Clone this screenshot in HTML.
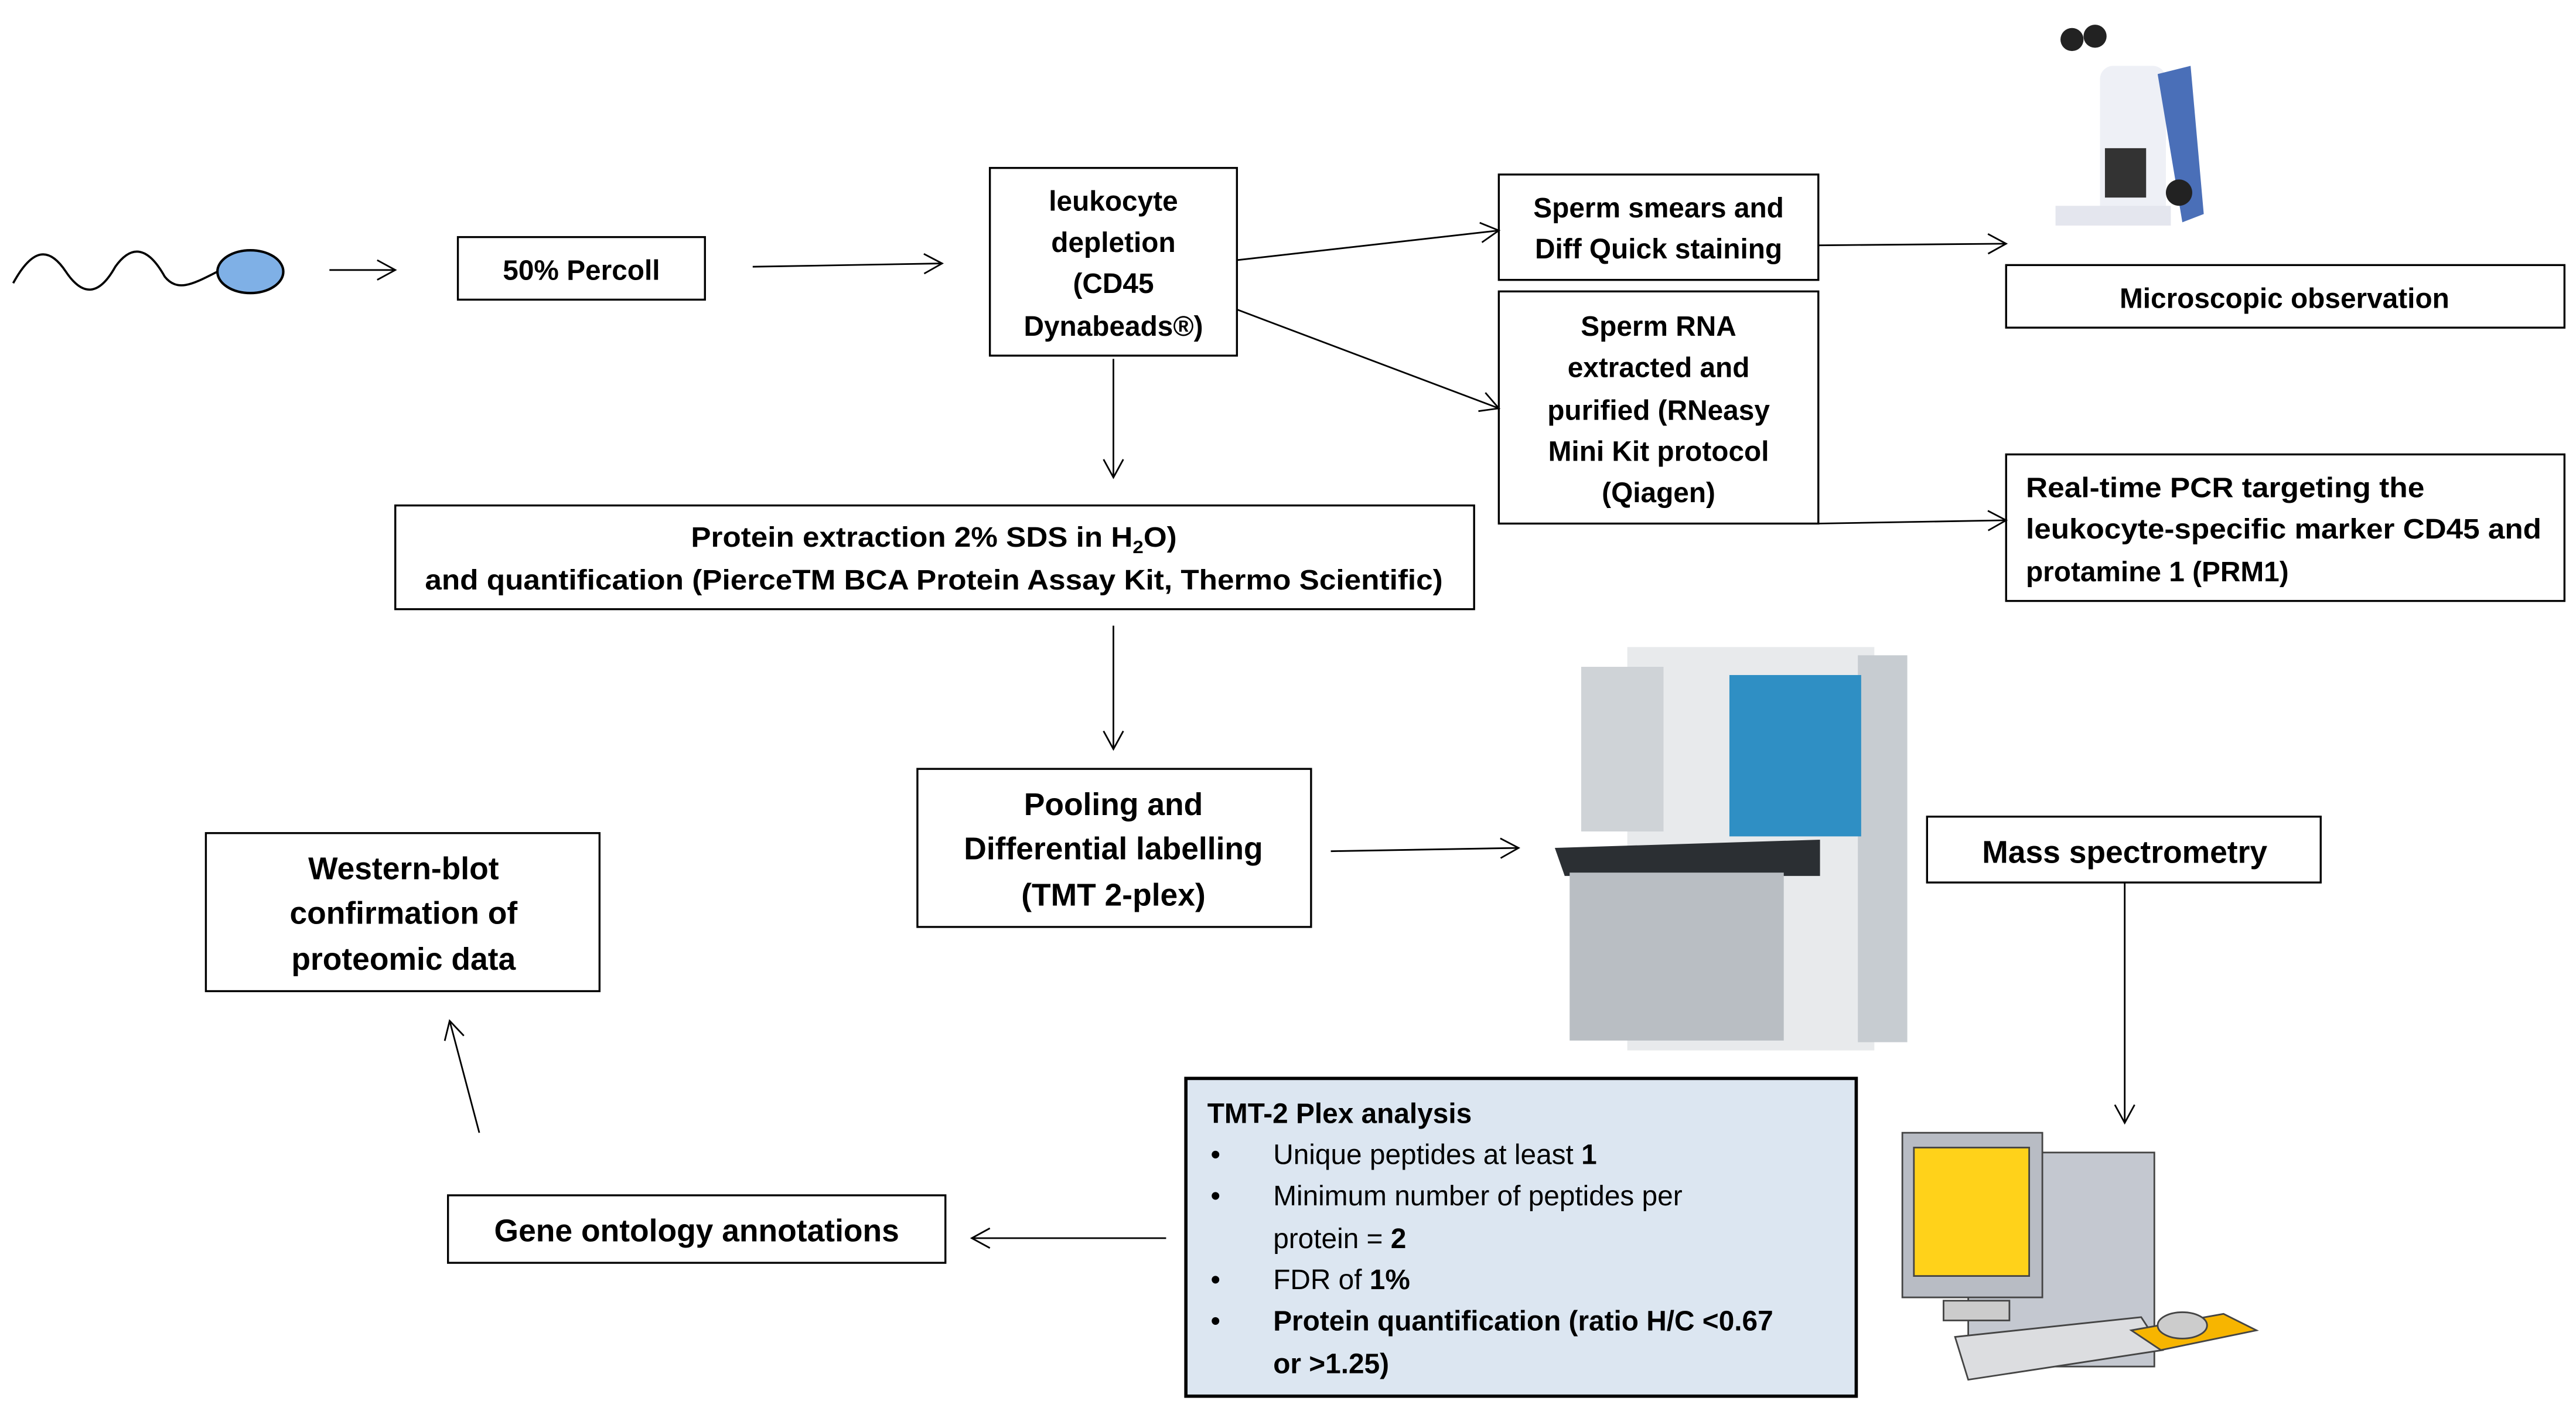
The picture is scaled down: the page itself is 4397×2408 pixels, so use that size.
<!DOCTYPE html>
<html><head><meta charset="utf-8"><style>html,body{margin:0;padding:0;background:#fff}svg{display:block}</style></head>
<body>
<svg width="4397" height="2408" viewBox="0 0 1564 857" preserveAspectRatio="none" xmlns="http://www.w3.org/2000/svg" font-family="Liberation Sans, sans-serif" font-weight="bold" font-size="17" fill="#000">
<defs><marker id="a" markerWidth="14" markerHeight="14" refX="12" refY="7" orient="auto" markerUnits="userSpaceOnUse"><path d="M1,1 L12,7 L1,13" fill="none" stroke="#000" stroke-width="1"/></marker></defs>
<g fill="#fff" stroke="#000" stroke-width="1.2">
<rect x="278" y="144" width="150" height="38"/>
<rect x="601" y="102" width="150" height="114"/>
<rect x="910" y="106" width="194" height="64"/>
<rect x="910" y="177" width="194" height="141"/>
<rect x="1218" y="161" width="339" height="38"/>
<rect x="1218" y="276" width="339" height="89"/>
<rect x="240" y="307" width="655" height="63"/>
<rect x="557" y="467" width="239" height="96"/>
<rect x="125" y="506" width="239" height="96"/>
<rect x="1170" y="496" width="239" height="40"/>
<rect x="272" y="726" width="302" height="41"/>
<rect x="720" y="655" width="407" height="193" fill="#dce6f1" stroke-width="2"/>
</g>
<g stroke="#000" stroke-width="1" fill="none" marker-end="url(#a)">
<line x1="200" y1="164" x2="240" y2="164"/>
<line x1="457" y1="162" x2="572" y2="160"/>
<line x1="751" y1="158" x2="910" y2="140"/>
<line x1="751" y1="188" x2="910" y2="248"/>
<line x1="676" y1="218" x2="676" y2="290"/>
<line x1="1104" y1="149" x2="1218" y2="148"/>
<line x1="1104" y1="318" x2="1218" y2="316"/>
<line x1="676" y1="380" x2="676" y2="455"/>
<line x1="808" y1="517" x2="922" y2="515"/>
<line x1="1290" y1="536" x2="1290" y2="682"/>
<line x1="708" y1="752" x2="590" y2="752"/>
<line x1="291" y1="688" x2="273" y2="620"/>
</g>
<!-- sperm -->
<path d="M8,172 C20,150 30,150 40,165 C50,180 60,180 70,162 C80,148 90,150 100,168 C108,178 118,172 132,165" fill="none" stroke="#000" stroke-width="1.3"/>
<ellipse cx="152" cy="165" rx="20" ry="13" fill="#7fb0e6" stroke="#000" stroke-width="1.5"/>
<!-- microscope -->
<g>
<rect x="1275" y="40" width="40" height="95" rx="8" fill="#eef0f6"/>
<path d="M1310,45 L1330,40 L1338,130 L1325,135 Z" fill="#4a6fb8"/>
<circle cx="1258" cy="24" r="7" fill="#222"/><circle cx="1272" cy="22" r="7" fill="#222"/>
<rect x="1278" y="90" width="25" height="30" fill="#333"/>
<rect x="1248" y="125" width="70" height="12" fill="#e4e6ee"/>
<circle cx="1323" cy="117" r="8" fill="#222"/>
</g>
<!-- mass spec -->
<g>
<rect x="988" y="393" width="150" height="245" fill="#e8eaec"/>
<rect x="1128" y="398" width="30" height="235" fill="#c7ccd1"/>
<rect x="1050" y="410" width="80" height="98" fill="#2f8fc4"/>
<rect x="960" y="405" width="50" height="100" fill="#cfd3d7"/>
<path d="M944,515 L1105,510 L1105,532 L950,532 Z" fill="#2b2f33"/>
<rect x="953" y="530" width="130" height="102" fill="#b9bec3"/>
</g>
<!-- computer -->
<g stroke="#444" stroke-width="1">
<rect x="1195" y="700" width="113" height="130" fill="#c4c8d0"/>
<rect x="1155" y="688" width="85" height="100" fill="#b8bcc4"/>
<rect x="1162" y="697" width="70" height="78" fill="#ffd21a"/>
<rect x="1180" y="790" width="40" height="12" fill="#ccc"/>
<path d="M1187,812 L1300,800 L1313,820 L1195,838 Z" fill="#dcdde0"/>
<path d="M1294,808 L1350,798 L1370,808 L1312,820 Z" fill="#f7b500"/>
<ellipse cx="1325" cy="805" rx="15" ry="8" fill="#ccc"/>
</g>
<!-- text -->
<g text-anchor="middle">
<text x="353" y="170">50% Percoll</text>
<text x="676" y="128">leukocyte</text>
<text x="676" y="153">depletion</text>
<text x="676" y="178">(CD45</text>
<text x="676" y="204">Dynabeads®)</text>
<text x="1007" y="132">Sperm smears and</text>
<text x="1007" y="157">Diff Quick staining</text>
<text x="1007" y="204">Sperm RNA</text>
<text x="1007" y="229">extracted and</text>
<text x="1007" y="255">purified (RNeasy</text>
<text x="1007" y="280">Mini Kit protocol</text>
<text x="1007" y="305">(Qiagen)</text>
<text x="1387" y="187">Microscopic observation</text>
<text x="567" y="332" textLength="295" lengthAdjust="spacingAndGlyphs">Protein extraction 2% SDS in H<tspan font-size="11" dy="4">2</tspan><tspan dy="-4">O)</tspan></text>
<text x="567" y="358" textLength="618" lengthAdjust="spacingAndGlyphs">and quantification (PierceTM BCA Protein Assay Kit, Thermo Scientific)</text>
<text x="676" y="495" font-size="19">Pooling and</text>
<text x="676" y="522" font-size="19">Differential labelling</text>
<text x="676" y="550" font-size="19">(TMT 2-plex)</text>
<text x="245" y="534" font-size="19">Western-blot</text>
<text x="245" y="561" font-size="19">confirmation of</text>
<text x="245" y="589" font-size="19">proteomic data</text>
<text x="1290" y="524" font-size="19">Mass spectrometry</text>
<text x="423" y="754" font-size="19">Gene ontology annotations</text>
</g>
<g>
<text x="1230" y="302" textLength="242" lengthAdjust="spacingAndGlyphs">Real-time PCR targeting the</text>
<text x="1230" y="327" textLength="313" lengthAdjust="spacingAndGlyphs">leukocyte-specific marker CD45 and</text>
<text x="1230" y="353">protamine 1 (PRM1)</text>
</g>
<g font-size="17">
<text x="733" y="682">TMT-2 Plex analysis</text>
<g font-weight="normal">
<text x="735" y="707">•</text><text x="773" y="707">Unique peptides at least <tspan font-weight="bold">1</tspan></text>
<text x="735" y="732">•</text><text x="773" y="732">Minimum number of peptides per</text>
<text x="773" y="758">protein = <tspan font-weight="bold">2</tspan></text>
<text x="735" y="783">•</text><text x="773" y="783">FDR of <tspan font-weight="bold">1%</tspan></text>
<text x="735" y="808">•</text>
</g>
<text x="773" y="808">Protein quantification (ratio H/C &lt;0.67</text>
<text x="773" y="834">or &gt;1.25)</text>
</g>
</svg>
</body></html>
